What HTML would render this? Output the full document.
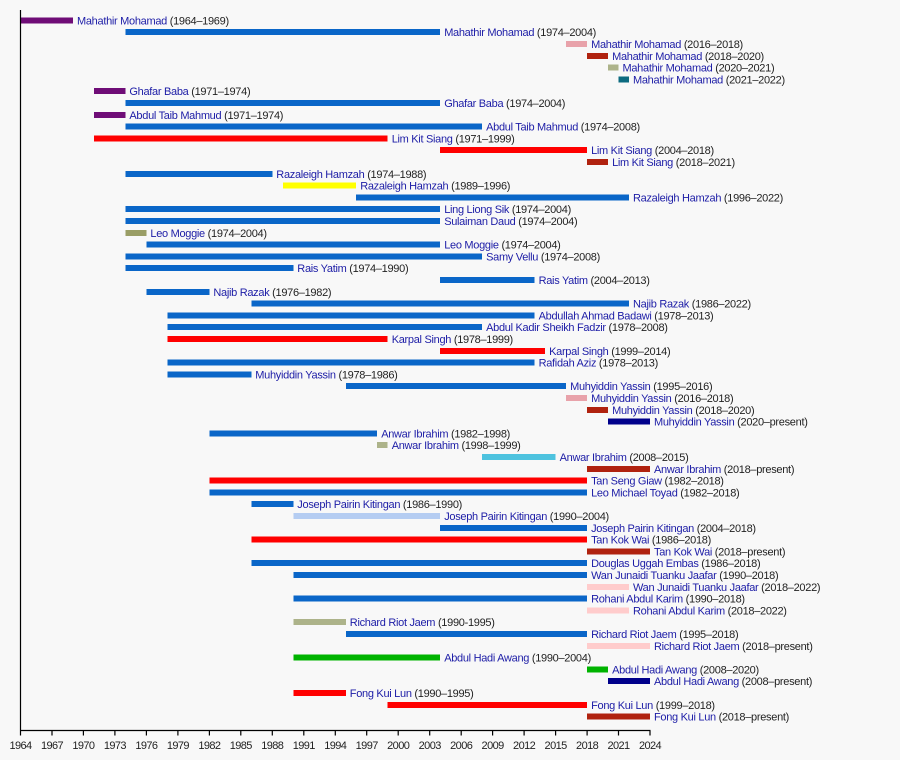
<!DOCTYPE html>
<html><head><meta charset="utf-8"><style>
html,body{margin:0;padding:0;background:#f8f8f8;}
svg{display:block;font-family:"Liberation Sans",Arial,sans-serif;}
.l{font-size:11px;letter-spacing:-0.3px;fill:#222;}
.n{fill:#1c1ca6;}
.t{font-size:11px;letter-spacing:-0.6px;fill:#222;text-anchor:middle;}
</style></head><body>
<svg width="900" height="760" viewBox="0 0 900 760" xmlns="http://www.w3.org/2000/svg">
<rect width="900" height="760" fill="#f8f8f8"/>
<g shape-rendering="crispEdges">
<rect x="20.5" y="17.4" width="52.5" height="6" fill="#6f0d77"/>
<rect x="125.4" y="29.2" width="314.8" height="6" fill="#0a66c8"/>
<rect x="566.1" y="41.0" width="21" height="6" fill="#e8a2aa"/>
<rect x="587.1" y="52.8" width="21" height="6" fill="#b0220f"/>
<rect x="608.1" y="64.6" width="10.4" height="6" fill="#adb38a"/>
<rect x="618.5" y="76.4" width="10.5" height="6" fill="#0d6b80"/>
<rect x="93.9" y="88.2" width="31.5" height="6" fill="#6f0d77"/>
<rect x="125.4" y="100.0" width="314.8" height="6" fill="#0a66c8"/>
<rect x="93.9" y="111.8" width="31.5" height="6" fill="#6f0d77"/>
<rect x="125.4" y="123.6" width="356.7" height="6" fill="#0a66c8"/>
<rect x="93.9" y="135.4" width="293.8" height="6" fill="#ff0000"/>
<rect x="440.2" y="147.2" width="146.9" height="6" fill="#ff0000"/>
<rect x="587.1" y="159.0" width="21" height="6" fill="#b0220f"/>
<rect x="125.4" y="170.8" width="146.9" height="6" fill="#0a66c8"/>
<rect x="282.8" y="182.6" width="73.4" height="6" fill="#ffff00"/>
<rect x="356.2" y="194.4" width="272.8" height="6" fill="#0a66c8"/>
<rect x="125.4" y="206.2" width="314.8" height="6" fill="#0a66c8"/>
<rect x="125.4" y="218.0" width="314.8" height="6" fill="#0a66c8"/>
<rect x="125.4" y="229.8" width="21" height="6" fill="#9a9e66"/>
<rect x="146.4" y="241.6" width="293.8" height="6" fill="#0a66c8"/>
<rect x="125.4" y="253.4" width="356.7" height="6" fill="#0a66c8"/>
<rect x="125.4" y="265.2" width="167.9" height="6" fill="#0a66c8"/>
<rect x="440.2" y="277.0" width="94.4" height="6" fill="#0a66c8"/>
<rect x="146.4" y="288.8" width="63" height="6" fill="#0a66c8"/>
<rect x="251.3" y="300.6" width="377.7" height="6" fill="#0a66c8"/>
<rect x="167.4" y="312.4" width="367.2" height="6" fill="#0a66c8"/>
<rect x="167.4" y="324.2" width="314.7" height="6" fill="#0a66c8"/>
<rect x="167.4" y="336.0" width="220.3" height="6" fill="#ff0000"/>
<rect x="440.2" y="347.8" width="104.9" height="6" fill="#ff0000"/>
<rect x="167.4" y="359.6" width="367.2" height="6" fill="#0a66c8"/>
<rect x="167.4" y="371.4" width="83.9" height="6" fill="#0a66c8"/>
<rect x="345.8" y="383.2" width="220.3" height="6" fill="#0a66c8"/>
<rect x="566.1" y="395.0" width="21" height="6" fill="#e8a2aa"/>
<rect x="587.1" y="406.8" width="21" height="6" fill="#b0220f"/>
<rect x="608.1" y="418.6" width="41.9" height="6" fill="#00008b"/>
<rect x="209.4" y="430.4" width="167.8" height="6" fill="#0a66c8"/>
<rect x="377.2" y="442.2" width="10.5" height="6" fill="#adb38a"/>
<rect x="482.1" y="454.0" width="73.5" height="6" fill="#4ec3df"/>
<rect x="587.1" y="465.8" width="62.9" height="6" fill="#b0220f"/>
<rect x="209.4" y="477.6" width="377.7" height="6" fill="#ff0000"/>
<rect x="209.4" y="489.4" width="377.7" height="6" fill="#0a66c8"/>
<rect x="251.3" y="501.2" width="42" height="6" fill="#0a66c8"/>
<rect x="293.3" y="513.0" width="146.9" height="6" fill="#b5cdf2"/>
<rect x="440.2" y="524.8" width="146.9" height="6" fill="#0a66c8"/>
<rect x="251.3" y="536.6" width="335.8" height="6" fill="#ff0000"/>
<rect x="587.1" y="548.4" width="62.9" height="6" fill="#b0220f"/>
<rect x="251.3" y="560.2" width="335.8" height="6" fill="#0a66c8"/>
<rect x="293.3" y="572.0" width="293.8" height="6" fill="#0a66c8"/>
<rect x="587.1" y="583.8" width="41.9" height="6" fill="#ffcccc"/>
<rect x="293.3" y="595.6" width="293.8" height="6" fill="#0a66c8"/>
<rect x="587.1" y="607.4" width="41.9" height="6" fill="#ffcccc"/>
<rect x="293.3" y="619.2" width="52.5" height="6" fill="#adb38a"/>
<rect x="345.8" y="631.0" width="241.3" height="6" fill="#0a66c8"/>
<rect x="587.1" y="642.8" width="62.9" height="6" fill="#ffcccc"/>
<rect x="293.3" y="654.6" width="146.9" height="6" fill="#00b300"/>
<rect x="587.1" y="666.4" width="21" height="6" fill="#00b300"/>
<rect x="608.1" y="678.2" width="41.9" height="6" fill="#00008b"/>
<rect x="293.3" y="690.0" width="52.5" height="6" fill="#ff0000"/>
<rect x="387.7" y="701.8" width="199.4" height="6" fill="#ff0000"/>
<rect x="587.1" y="713.6" width="62.9" height="6" fill="#b0220f"/>
</g>
<g class="l">
<text x="77" y="24.4"><tspan class="n">Mahathir Mohamad</tspan> (1964–1969)</text>
<text x="444.2" y="36.2"><tspan class="n">Mahathir Mohamad</tspan> (1974–2004)</text>
<text x="591.1" y="48.0"><tspan class="n">Mahathir Mohamad</tspan> (2016–2018)</text>
<text x="612.1" y="59.8"><tspan class="n">Mahathir Mohamad</tspan> (2018–2020)</text>
<text x="622.5" y="71.6"><tspan class="n">Mahathir Mohamad</tspan> (2020–2021)</text>
<text x="633" y="83.4"><tspan class="n">Mahathir Mohamad</tspan> (2021–2022)</text>
<text x="129.4" y="95.2"><tspan class="n">Ghafar Baba</tspan> (1971–1974)</text>
<text x="444.2" y="107.0"><tspan class="n">Ghafar Baba</tspan> (1974–2004)</text>
<text x="129.4" y="118.8"><tspan class="n">Abdul Taib Mahmud</tspan> (1971–1974)</text>
<text x="486.1" y="130.6"><tspan class="n">Abdul Taib Mahmud</tspan> (1974–2008)</text>
<text x="391.7" y="142.4"><tspan class="n">Lim Kit Siang</tspan> (1971–1999)</text>
<text x="591.1" y="154.2"><tspan class="n">Lim Kit Siang</tspan> (2004–2018)</text>
<text x="612.1" y="166.0"><tspan class="n">Lim Kit Siang</tspan> (2018–2021)</text>
<text x="276.3" y="177.8"><tspan class="n">Razaleigh Hamzah</tspan> (1974–1988)</text>
<text x="360.2" y="189.6"><tspan class="n">Razaleigh Hamzah</tspan> (1989–1996)</text>
<text x="633" y="201.4"><tspan class="n">Razaleigh Hamzah</tspan> (1996–2022)</text>
<text x="444.2" y="213.2"><tspan class="n">Ling Liong Sik</tspan> (1974–2004)</text>
<text x="444.2" y="225.0"><tspan class="n">Sulaiman Daud</tspan> (1974–2004)</text>
<text x="150.4" y="236.8"><tspan class="n">Leo Moggie</tspan> (1974–2004)</text>
<text x="444.2" y="248.6"><tspan class="n">Leo Moggie</tspan> (1974–2004)</text>
<text x="486.1" y="260.4"><tspan class="n">Samy Vellu</tspan> (1974–2008)</text>
<text x="297.3" y="272.2"><tspan class="n">Rais Yatim</tspan> (1974–1990)</text>
<text x="538.6" y="284.0"><tspan class="n">Rais Yatim</tspan> (2004–2013)</text>
<text x="213.4" y="295.8"><tspan class="n">Najib Razak</tspan> (1976–1982)</text>
<text x="633" y="307.6"><tspan class="n">Najib Razak</tspan> (1986–2022)</text>
<text x="538.6" y="319.4"><tspan class="n">Abdullah Ahmad Badawi</tspan> (1978–2013)</text>
<text x="486.1" y="331.2"><tspan class="n">Abdul Kadir Sheikh Fadzir</tspan> (1978–2008)</text>
<text x="391.7" y="343.0"><tspan class="n">Karpal Singh</tspan> (1978–1999)</text>
<text x="549.1" y="354.8"><tspan class="n">Karpal Singh</tspan> (1999–2014)</text>
<text x="538.6" y="366.6"><tspan class="n">Rafidah Aziz</tspan> (1978–2013)</text>
<text x="255.3" y="378.4"><tspan class="n">Muhyiddin Yassin</tspan> (1978–1986)</text>
<text x="570.1" y="390.2"><tspan class="n">Muhyiddin Yassin</tspan> (1995–2016)</text>
<text x="591.1" y="402.0"><tspan class="n">Muhyiddin Yassin</tspan> (2016–2018)</text>
<text x="612.1" y="413.8"><tspan class="n">Muhyiddin Yassin</tspan> (2018–2020)</text>
<text x="654" y="425.6"><tspan class="n">Muhyiddin Yassin</tspan> (2020–present)</text>
<text x="381.2" y="437.4"><tspan class="n">Anwar Ibrahim</tspan> (1982–1998)</text>
<text x="391.7" y="449.2"><tspan class="n">Anwar Ibrahim</tspan> (1998–1999)</text>
<text x="559.6" y="461.0"><tspan class="n">Anwar Ibrahim</tspan> (2008–2015)</text>
<text x="654" y="472.8"><tspan class="n">Anwar Ibrahim</tspan> (2018–present)</text>
<text x="591.1" y="484.6"><tspan class="n">Tan Seng Giaw</tspan> (1982–2018)</text>
<text x="591.1" y="496.4"><tspan class="n">Leo Michael Toyad</tspan> (1982–2018)</text>
<text x="297.3" y="508.2"><tspan class="n">Joseph Pairin Kitingan</tspan> (1986–1990)</text>
<text x="444.2" y="520.0"><tspan class="n">Joseph Pairin Kitingan</tspan> (1990–2004)</text>
<text x="591.1" y="531.8"><tspan class="n">Joseph Pairin Kitingan</tspan> (2004–2018)</text>
<text x="591.1" y="543.6"><tspan class="n">Tan Kok Wai</tspan> (1986–2018)</text>
<text x="654" y="555.4"><tspan class="n">Tan Kok Wai</tspan> (2018–present)</text>
<text x="591.1" y="567.2"><tspan class="n">Douglas Uggah Embas</tspan> (1986–2018)</text>
<text x="591.1" y="579.0"><tspan class="n">Wan Junaidi Tuanku Jaafar</tspan> (1990–2018)</text>
<text x="633" y="590.8"><tspan class="n">Wan Junaidi Tuanku Jaafar</tspan> (2018–2022)</text>
<text x="591.1" y="602.6"><tspan class="n">Rohani Abdul Karim</tspan> (1990–2018)</text>
<text x="633" y="614.4"><tspan class="n">Rohani Abdul Karim</tspan> (2018–2022)</text>
<text x="349.8" y="626.2"><tspan class="n">Richard Riot Jaem</tspan> (1990-1995)</text>
<text x="591.1" y="638.0"><tspan class="n">Richard Riot Jaem</tspan> (1995–2018)</text>
<text x="654" y="649.8"><tspan class="n">Richard Riot Jaem</tspan> (2018–present)</text>
<text x="444.2" y="661.6"><tspan class="n">Abdul Hadi Awang</tspan> (1990–2004)</text>
<text x="612.1" y="673.4"><tspan class="n">Abdul Hadi Awang</tspan> (2008–2020)</text>
<text x="654" y="685.2"><tspan class="n">Abdul Hadi Awang</tspan> (2008–present)</text>
<text x="349.8" y="697.0"><tspan class="n">Fong Kui Lun</tspan> (1990–1995)</text>
<text x="591.1" y="708.8"><tspan class="n">Fong Kui Lun</tspan> (1999–2018)</text>
<text x="654" y="720.6"><tspan class="n">Fong Kui Lun</tspan> (2018–present)</text>
</g>
<g stroke="#000" stroke-width="1.2" fill="none">
<line x1="20.5" y1="10" x2="20.5" y2="730.5"/>
<line x1="20" y1="730.5" x2="650.5" y2="730.5"/>
<path d="M20.5 730.5v5M52 730.5v5M83.4 730.5v5M114.9 730.5v5M146.4 730.5v5M177.9 730.5v5M209.4 730.5v5M240.8 730.5v5M272.3 730.5v5M303.8 730.5v5M335.3 730.5v5M366.7 730.5v5M398.2 730.5v5M429.7 730.5v5M461.2 730.5v5M492.6 730.5v5M524.1 730.5v5M555.6 730.5v5M587.1 730.5v5M618.5 730.5v5M650 730.5v5"/>
</g>
<g class="t">
<text x="20.5" y="749">1964</text>
<text x="52" y="749">1967</text>
<text x="83.4" y="749">1970</text>
<text x="114.9" y="749">1973</text>
<text x="146.4" y="749">1976</text>
<text x="177.9" y="749">1979</text>
<text x="209.4" y="749">1982</text>
<text x="240.8" y="749">1985</text>
<text x="272.3" y="749">1988</text>
<text x="303.8" y="749">1991</text>
<text x="335.3" y="749">1994</text>
<text x="366.7" y="749">1997</text>
<text x="398.2" y="749">2000</text>
<text x="429.7" y="749">2003</text>
<text x="461.2" y="749">2006</text>
<text x="492.6" y="749">2009</text>
<text x="524.1" y="749">2012</text>
<text x="555.6" y="749">2015</text>
<text x="587.1" y="749">2018</text>
<text x="618.5" y="749">2021</text>
<text x="650" y="749">2024</text>
</g>
</svg>
</body></html>
